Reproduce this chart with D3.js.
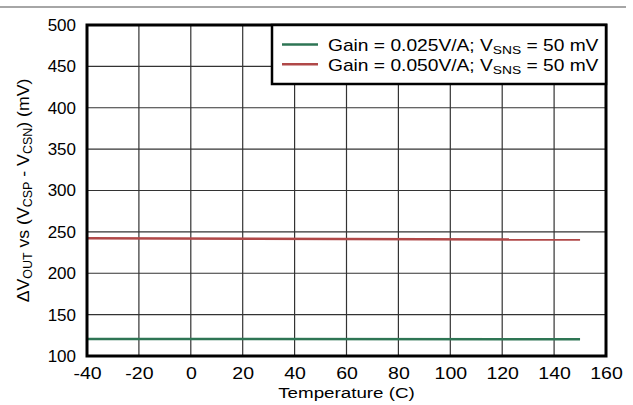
<!DOCTYPE html>
<html><head><meta charset="utf-8">
<script src="https://cdn.jsdelivr.net/npm/d3@7"></script>
<style>body{margin:0;background:#fff}svg{display:block;font-family:"Liberation Sans",Arial,sans-serif}</style>
</head><body>
<script>
const temps = [-40, 150];
const gain025 = [120.5, 120.2];
const gain050 = [242.3, 240.7];
const xTicks = [-40, -20, 0, 20, 40, 60, 80, 100, 120, 140, 160];
const yTicks = [100, 150, 200, 250, 300, 350, 400, 450, 500];
const seriesNames = ["Gain = 0.025V/A; V", "Gain = 0.050V/A; V"];
const seriesColors = ["#2e7554", "#b04848"];

const W = 633, H = 405;
const m = {l: 87, t: 25, r: 606, b: 356};
const svg = d3.select("body").append("svg").attr("width", W).attr("height", H);

svg.append("line").attr("x1", 0).attr("x2", 626).attr("y1", 7).attr("y2", 7)
  .attr("stroke", "#888").attr("stroke-width", 1.5);

const x = d3.scaleLinear().domain([-40, 160]).range([m.l, m.r]);
const y = d3.scaleLinear().domain([100, 500]).range([m.b, m.t]);

// grid
svg.append("g").selectAll("line").data(xTicks).join("line")
  .attr("x1", d => x(d)).attr("x2", d => x(d)).attr("y1", m.t).attr("y2", m.b)
  .attr("stroke", "#333").attr("stroke-width", 1.2);
svg.append("g").selectAll("line").data(yTicks).join("line")
  .attr("x1", m.l).attr("x2", m.r).attr("y1", d => y(d)).attr("y2", d => y(d))
  .attr("stroke", "#333").attr("stroke-width", 1.2);

// axes
const xa = svg.append("g").attr("transform", `translate(0,${m.b})`)
  .call(d3.axisBottom(x).tickValues(xTicks).tickSize(0).tickPadding(12).tickFormat(d => String(d)));
xa.select(".domain").remove();
xa.selectAll("text").attr("font-size", 16).attr("fill", "#000")
  .attr("font-family", "Liberation Sans, Arial, sans-serif").attr("transform", "scale(1.22,1)");
const ya = svg.append("g").attr("transform", `translate(${m.l},0)`)
  .call(d3.axisLeft(y).tickValues(yTicks).tickSize(0).tickPadding(11).tickFormat(d => String(d)));
ya.select(".domain").remove();
ya.selectAll("text").attr("font-size", 17).attr("fill", "#000").attr("font-family", "Liberation Sans, Arial, sans-serif");

// lines
const line = d3.line().x(d => x(d[0])).y(d => y(d[1]));
[gain025, gain050].forEach((vals, i) => {
  svg.append("path").datum(temps.map((t, j) => [t, vals[j]]))
    .attr("d", line).attr("fill", "none").attr("stroke", seriesColors[i]).attr("stroke-width", 2.5);
});

// frame
svg.append("rect").attr("x", m.l).attr("y", m.t).attr("width", m.r - m.l).attr("height", m.b - m.t)
  .attr("fill", "none").attr("stroke", "#000").attr("stroke-width", 3);

// legend
const lg = svg.append("g");
lg.append("rect").attr("x", 272).attr("y", m.t).attr("width", m.r - 272).attr("height", 59)
  .attr("fill", "#fff").attr("stroke", "#000").attr("stroke-width", 2.5);
seriesNames.forEach((name, i) => {
  const ly = 44.4 + i * 19.8;
  lg.append("line").attr("x1", 282).attr("x2", 318).attr("y1", ly).attr("y2", ly)
    .attr("stroke", seriesColors[i]).attr("stroke-width", 2.5);
  const t = lg.append("text").attr("transform", `translate(328,${ly + 6.6}) scale(1.2,1)`)
    .attr("font-size", 16).attr("fill", "#000");
  t.append("tspan").text(name);
  t.append("tspan").attr("font-size", 11.5).attr("dy", 3).text("SNS");
  t.append("tspan").attr("dy", -3).text(" = 50 mV");
});

// axis titles
svg.append("text").attr("transform", `translate(${(m.l + m.r) / 2},398) scale(1.22,1)`)
  .attr("text-anchor", "middle").attr("font-size", 15.4).text("Temperature (C)");
const yt = svg.append("text").attr("transform", `translate(29,${(m.t + m.b) / 2}) rotate(-90) scale(1.04,1)`)
  .attr("text-anchor", "middle").attr("font-size", 17);
yt.append("tspan").text("\u0394V");
yt.append("tspan").attr("font-size", 12).attr("dy", 3).text("OUT");
yt.append("tspan").attr("dy", -3).text(" vs (V");
yt.append("tspan").attr("font-size", 12).attr("dy", 3).text("CSP");
yt.append("tspan").attr("dy", -3).text(" - V");
yt.append("tspan").attr("font-size", 12).attr("dy", 3).text("CSN");
yt.append("tspan").attr("dy", -3).text(") (mV)");
</script>
</body></html>
